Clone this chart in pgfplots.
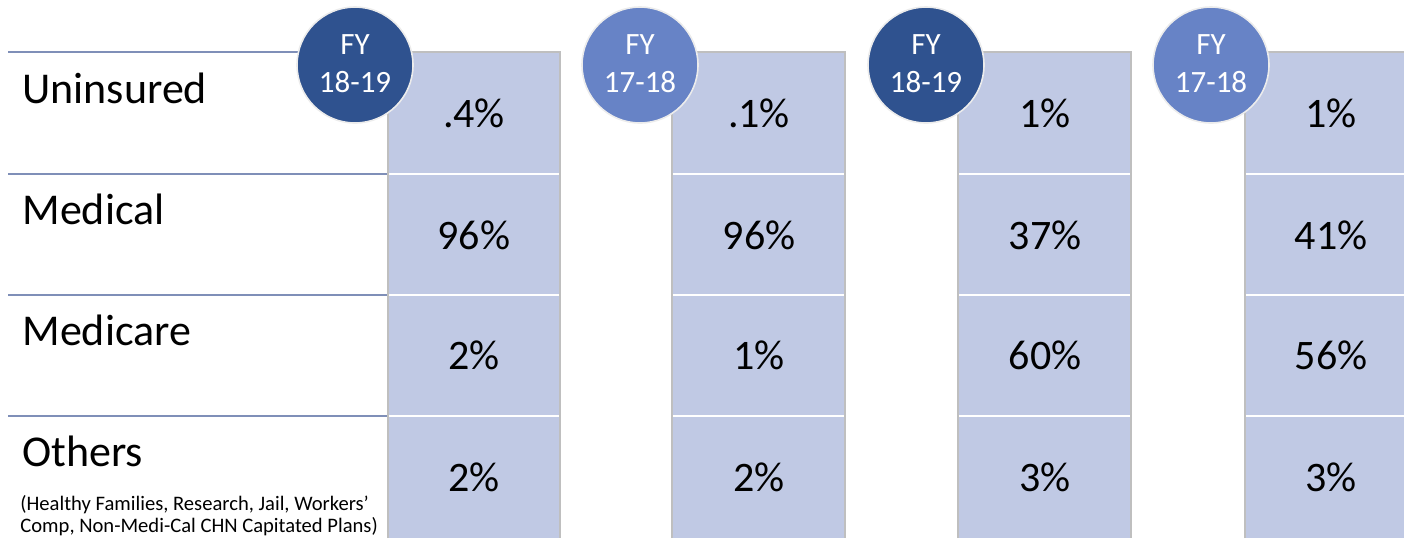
\documentclass[border=0pt]{standalone}
\usepackage{pgfplots}
\pgfplotsset{compat=1.18}
\usepackage{fontspec}
\setmainfont{Carlito}

\definecolor{cellc}{HTML}{C0C9E4}
\definecolor{darkc}{HTML}{2F528F}
\definecolor{lightc}{HTML}{6783C6}
\definecolor{rulec}{HTML}{7F8FB8}
\definecolor{edgec}{HTML}{BFBFBF}

\begin{document}
\begin{tikzpicture}
\path[use as bounding box] (0,0) rectangle (702pt,269pt);
\begin{axis}[
  at={(0,0)},anchor=south west,
  width=702pt,height=269pt,scale only axis,
  xmin=0,xmax=1404,ymin=0,ymax=538,
  y dir=reverse,
  hide axis,clip=false,
  nodes near coords style={anchor=center,text=black,font=\fontsize{21}{25}\selectfont},
]
% row rules on the left
\addplot[rulec,line width=1pt,mark=none,unbounded coords=jump] coordinates {
  (8,52) (388,52) (8,inf)
  (8,174) (388,174) (8,inf)
  (8,295) (388,295) (8,inf)
  (8,416) (388,416)
};
% columns
\addplot[fill=cellc,draw=none,mark=none] coordinates {(388,52) (560,52) (560,538) (388,538)} -- cycle;
\addplot[fill=cellc,draw=none,mark=none] coordinates {(672,52) (845,52) (845,538) (672,538)} -- cycle;
\addplot[fill=cellc,draw=none,mark=none] coordinates {(958,52) (1131,52) (1131,538) (958,538)} -- cycle;
\addplot[fill=cellc,draw=none,mark=none] coordinates {(1245,52) (1418,52) (1418,538) (1245,538)} -- cycle;
% white row separators
\addplot[white,line width=1.3pt,mark=none,unbounded coords=jump] coordinates {
  (388,174) (1404,174) (388,inf)
  (388,295) (1404,295) (388,inf)
  (388,416) (1404,416)
};
% column edges
\addplot[edgec,line width=0.8pt,mark=none] coordinates {(388,538) (388,52) (560,52) (560,538)};
\addplot[edgec,line width=0.8pt,mark=none] coordinates {(672,538) (672,52) (845,52) (845,538)};
\addplot[edgec,line width=0.8pt,mark=none] coordinates {(958,538) (958,52) (1131,52) (1131,538)};
\addplot[edgec,line width=0.8pt,mark=none] coordinates {(1245,538) (1245,52) (1418,52) (1418,538)};
% year circles
\addplot[only marks,mark=*,mark size=29pt,
  mark options={fill=darkc,draw=white!85!gray,line width=0.8pt}]
  coordinates {(355,65) (926,65)};
\addplot[only marks,mark=*,mark size=29pt,
  mark options={fill=lightc,draw=white!85!gray,line width=0.8pt}]
  coordinates {(640,65) (1211,65)};
\addplot[draw=none,mark=none,nodes near coords,point meta=explicit symbolic,
  nodes near coords style={anchor=center,text=white,font=\fontsize{15.5}{18}\selectfont}]
  coordinates {
  (355,45) [FY] (355,82) [18-19]
  (640,45) [FY] (640,82) [17-18]
  (926,45) [FY] (926,82) [18-19]
  (1211,45) [FY] (1211,82) [17-18]
};
% values
\addplot[draw=none,mark=none,nodes near coords,point meta=explicit symbolic]
  coordinates {
  (474,113) [.4\%] (474,235) [96\%] (474,355) [2\%] (474,477) [2\%]
  (759,113) [.1\%] (759,235) [96\%] (759,355) [1\%] (759,477) [2\%]
  (1045,113) [1\%] (1045,235) [37\%] (1045,355) [60\%] (1045,477) [3\%]
  (1331,113) [1\%] (1331,235) [41\%] (1331,355) [56\%] (1331,477) [3\%]
};
% category names
\addplot[draw=none,mark=none,nodes near coords,point meta=explicit symbolic,
  nodes near coords style={anchor=base west,inner xsep=0pt,font=\fontsize{22}{26}\selectfont}]
  coordinates {
  (22,103) [Uninsured] (22,224) [Medical] (22,345) [Medicare] (22,466) [Others]
};
\addplot[draw=none,mark=none,nodes near coords,point meta=explicit symbolic,
  nodes near coords style={anchor=base west,inner xsep=0pt,font=\fontsize{10.3}{12}\selectfont}]
  coordinates {
  (20,510) [(Healthy Families, Research, Jail, Workers’]
  (20,532) [Comp, Non-Medi-Cal CHN Capitated Plans)]
};
\end{axis}
\end{tikzpicture}
\end{document}
